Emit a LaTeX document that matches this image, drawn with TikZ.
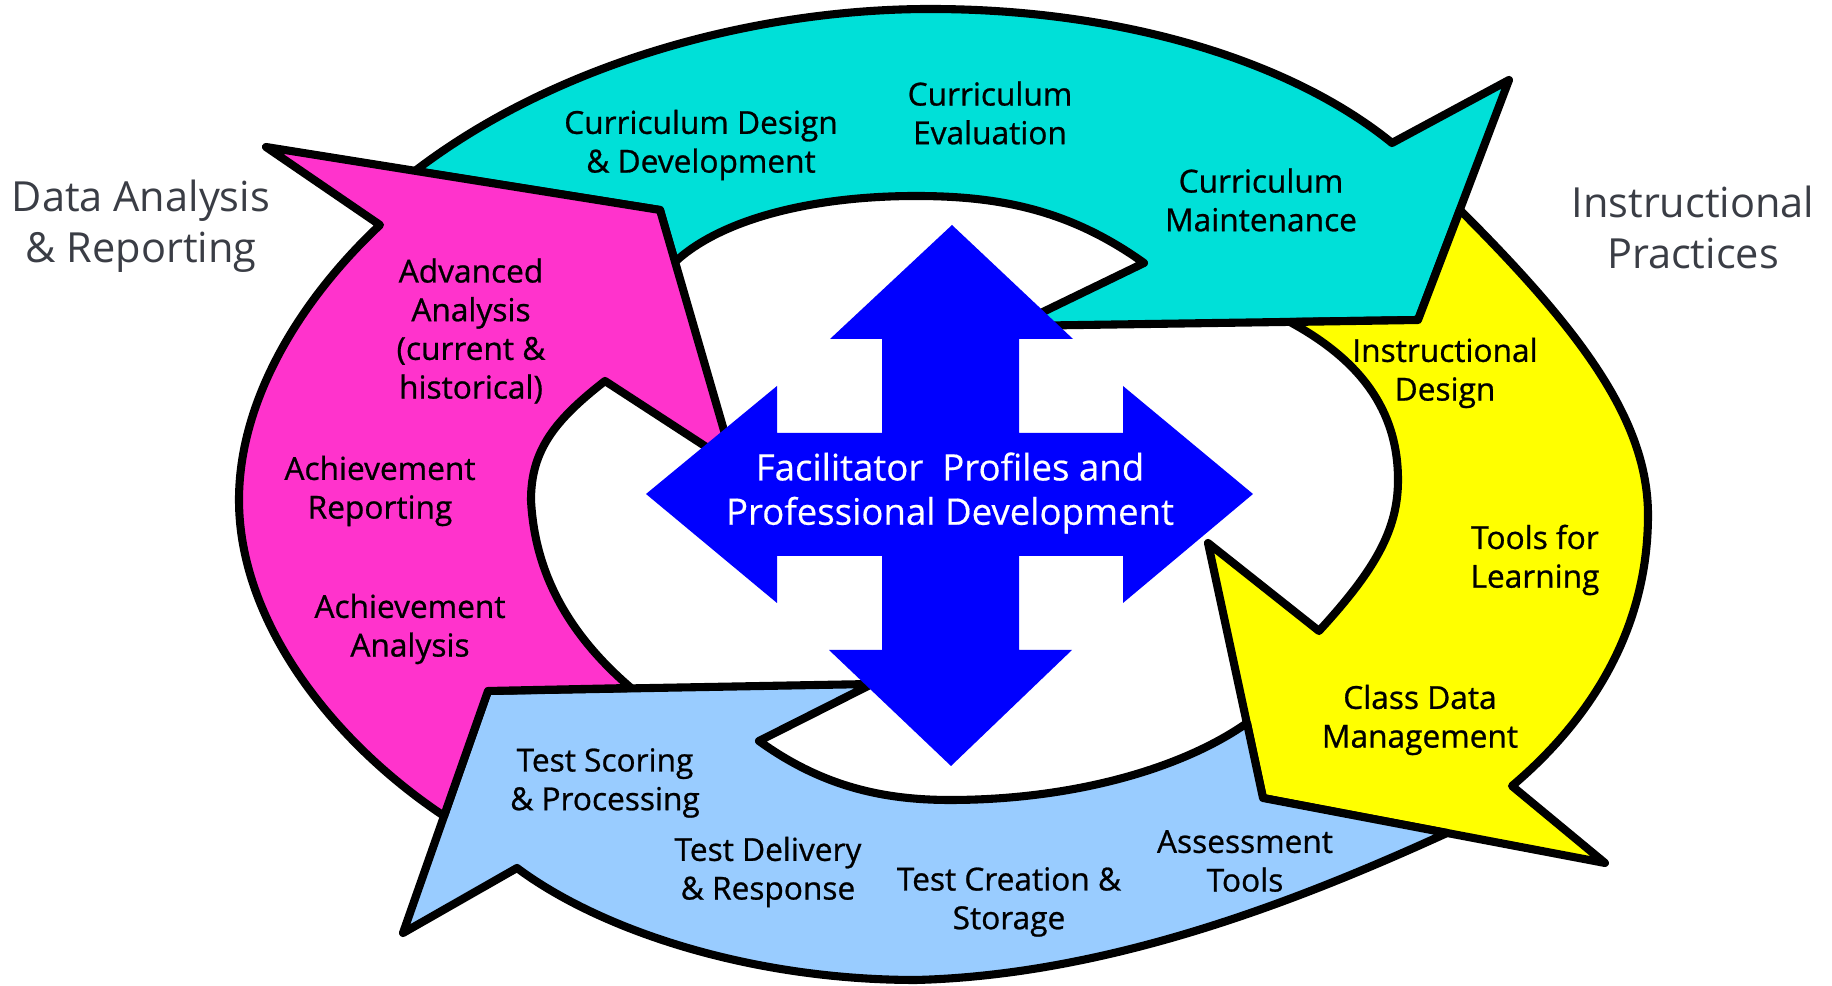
\documentclass[tikz,border=0pt]{standalone}
\usepackage{fontspec}
\setmainfont{Open Sans}
\newfontfamily\labfont{Open Sans}[FakeBold=0.8]
\newfontfamily\wfont{Open Sans}[FakeBold=0.4]
\definecolor{cyanA}{RGB}{0,224,216}
\definecolor{yellowA}{RGB}{255,255,0}
\definecolor{lblueA}{RGB}{153,204,255}
\definecolor{pinkA}{RGB}{255,51,204}
\definecolor{crossA}{RGB}{0,0,255}
\definecolor{grayA}{RGB}{58,61,69}
\begin{document}
\begin{tikzpicture}[x=0.01cm,y=-0.01cm,
  arr/.style={draw=black, line width=2.3pt, line join=round},
  lab/.style={font=\labfont\fontsize{9}{11}\selectfont, align=center, inner sep=0pt, text=black},
  wlab/.style={font=\wfont\fontsize{10.4}{12.6}\selectfont, align=center, inner sep=0pt, text=white},
  glab/.style={font=\fontsize{11.8}{14.5}\selectfont, align=center, inner sep=0pt, text=grayA}]
\useasboundingbox (0,0) rectangle (1832,986);
% cyan arrow
\path[arr, fill=cyanA] (415,171) .. controls (560,60) and (760,9) .. (930,9)
  .. controls (1120,9) and (1290,60) .. (1392,143)
  -- (1509,80) -- (1418,320) -- (1014,326) -- (1144,263)
  .. controls (1070,210) and (1000,196) .. (916,196)
  .. controls (810,196) and (720,220) .. (675,262)
  -- (660,210) -- cycle;
% yellow arrow
\path[arr, fill=yellowA] (1460,210) .. controls (1580,330) and (1648,420) .. (1648,515)
  .. controls (1648,630) and (1590,720) .. (1512,786)
  -- (1605,863) -- (1263,798) -- (1208,543) -- (1319,631)
  .. controls (1375,570) and (1398,530) .. (1398,480)
  .. controls (1398,410) and (1360,360) .. (1290,322)
  -- (1418,320) -- cycle;
% light blue arrow
\path[arr, fill=lblueA] (488,691) -- (872,684) -- (759,741)
  .. controls (820,785) and (880,800) .. (950,800)
  .. controls (1070,800) and (1180,770) .. (1247,723)
  -- (1263,798) -- (1447,833)
  .. controls (1300,900) and (1110,975) .. (916,980)
  .. controls (750,980) and (600,930) .. (517,868)
  -- (403,933) -- cycle;
% pink arrow
\path[arr, fill=pinkA] (380,225) -- (266,147) -- (660,210) -- (734,465) -- (605,381)
  .. controls (555,420) and (531,450) .. (531,500)
  .. controls (535,580) and (575,640) .. (631,688)
  -- (488,691) -- (444,816)
  .. controls (330,740) and (239,620) .. (239,500)
  .. controls (239,400) and (300,300) .. (380,225)
  -- cycle;
% central cross
\fill[crossA] (952,225) -- (1073,339) -- (1019,339) -- (1019,433) -- (1123,433) -- (1123,386) -- (1253,494)
  -- (1123,603) -- (1123,556) -- (1019,556) -- (1019,650) -- (1072,650) -- (951,766) -- (829,650)
  -- (882,650) -- (882,556) -- (777,556) -- (777,603) -- (646,494) -- (777,386) -- (777,433)
  -- (882,433) -- (882,339) -- (830,339) -- cycle;
% labels
\node[lab] (cdd) at (701,145) {Curriculum Design\\\& Development};
\node[lab] (ce) at (990,113) {Curriculum\\Evaluation};
\node[lab] (cm) at (1261,200) {Curriculum\\Maintenance};
\node[lab] (aa) at (471,331) {Advanced\\Analysis\\(current \&\\historical)};
\node[lab] (ar) at (380,491) {Achievement\\Reporting};
\node[lab] (an) at (410,629) {Achievement\\Analysis};
\node[lab] (id) at (1445,373) {Instructional\\Design};
\node[lab] (tl) at (1535,560) {Tools for\\Learning};
\node[lab] (cd) at (1420,720) {Class Data\\Management};
\node[lab] (ts) at (605,783) {Test Scoring\\\& Processing};
\node[lab] (td) at (768,872) {Test Delivery\\\& Response};
\node[lab] (tc) at (1009,902) {Test Creation \&\\Storage};
\node[lab] (at) at (1245,861) {Assessment\\Tools};
\node[wlab] (fac) at (950,493) {Facilitator\ \ Profiles and\\Professional Development};
\node[glab] (dar) at (141,226) {Data Analysis\\\& Reporting};
\node[glab] (ip) at (1693,227) {Instructional\\Practices};
\end{tikzpicture}
\end{document}
